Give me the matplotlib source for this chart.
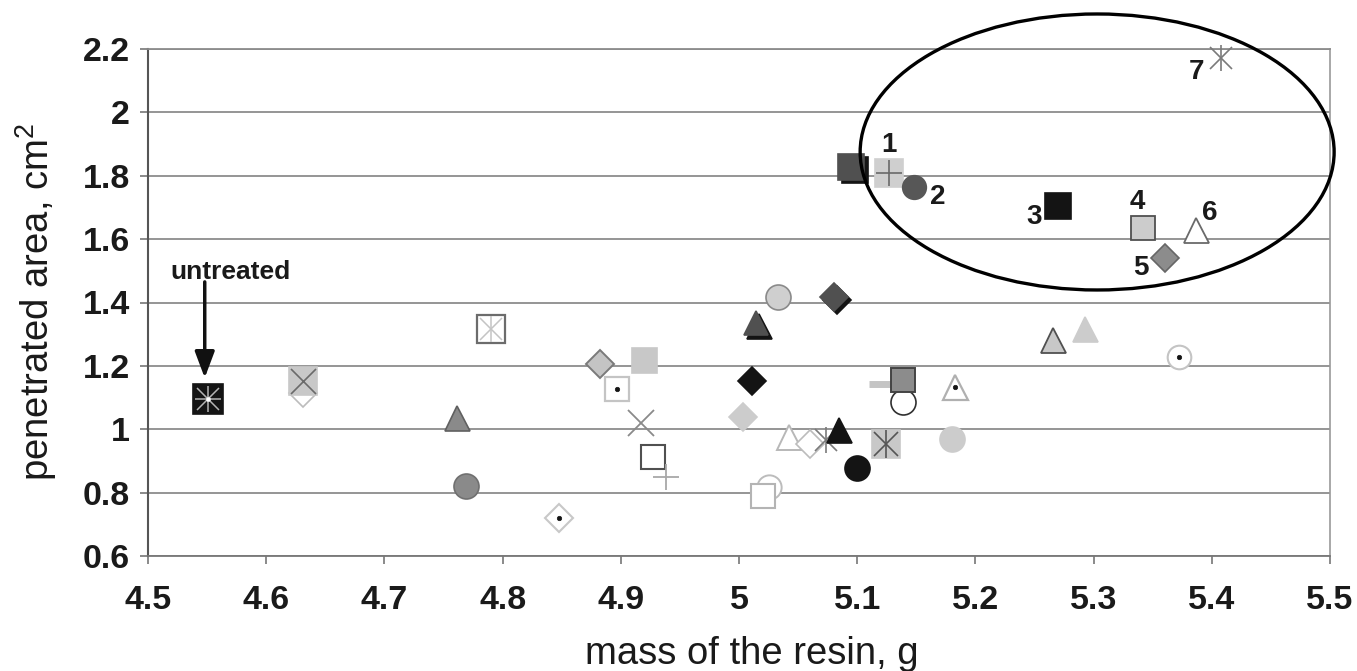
import matplotlib
matplotlib.use('Agg')
import matplotlib.pyplot as plt
from matplotlib.patches import Ellipse

plt.rcParams['font.family'] = ['Liberation Sans', 'DejaVu Sans']
plt.rcParams['mathtext.fontset'] = 'custom'
plt.rcParams['mathtext.rm'] = 'Liberation Sans'

# data (one entry per marker)
mass = [4.551, 4.631, 4.631, 4.790, 4.882, 4.920, 4.897, 4.761, 4.917, 4.927,
        4.938, 4.769, 4.848, 5.033, 5.083, 5.080, 5.017, 5.014, 5.011, 5.003,
        5.042, 5.060, 5.074, 5.085, 5.100, 5.124, 5.139, 5.119, 5.139, 5.183,
        5.180, 5.025, 5.020, 5.098, 5.095, 5.127, 5.148, 5.270, 5.408, 5.342,
        5.387, 5.360, 5.266, 5.293, 5.372]
area = [1.096, 1.115, 1.153, 1.317, 1.206, 1.219, 1.127, 1.036, 1.020, 0.913,
        0.850, 0.821, 0.720, 1.418, 1.409, 1.417, 1.326, 1.336, 1.153, 1.039,
        0.976, 0.954, 0.967, 0.998, 0.878, 0.954, 1.086, 1.143, 1.156, 1.134,
        0.970, 0.818, 0.790, 1.819, 1.827, 1.809, 1.765, 1.705, 2.172, 1.635,
        1.629, 1.541, 1.282, 1.317, 1.228]
kind = ['sq_k_ast', 'dia_open', 'sq_lg_x', 'sq_open_ast', 'dia_lg', 'sq_lg',
        'sq_open_dot', 'tri_g', 'x_g', 'sq_open_dg', 'plus_lg', 'circ_g',
        'dia_open_dot', 'circ_lg', 'dia_k', 'dia_dg', 'tri_k', 'tri_dg',
        'dia_k', 'dia_lg_ne', 'tri_open', 'dia_open', 'ast_g', 'tri_k',
        'circ_k', 'sq_lg_ast', 'circ_open_dg', 'dash_lg', 'sq_g',
        'tri_open_dot', 'circ_lg_ne', 'circ_open', 'sq_open', 'sq_k', 'sq_dg',
        'sq_lg_plus', 'circ_dg', 'sq_k', 'ast_g', 'sq_lg_dg', 'tri_open_dg',
        'dia_g', 'tri_lg_dg', 'tri_lg_ne', 'circ_open_dot']

point_labels = ['1', '2', '3', '4', '5', '6', '7']
label_x = [5.127, 5.168, 5.250, 5.337, 5.340, 5.398, 5.387]
label_y = [1.897, 1.733, 1.670, 1.717, 1.509, 1.683, 2.127]

x_ticks = [4.5, 4.6, 4.7, 4.8, 4.9, 5.0, 5.1, 5.2, 5.3, 5.4, 5.5]
x_tick_labels = ['4.5', '4.6', '4.7', '4.8', '4.9', '5', '5.1', '5.2', '5.3', '5.4', '5.5']
y_ticks = [0.6, 0.8, 1.0, 1.2, 1.4, 1.6, 1.8, 2.0, 2.2]
y_tick_labels = ['0.6', '0.8', '1', '1.2', '1.4', '1.6', '1.8', '2', '2.2']

K = '#141414'
DG = '#505050'
G = '#8a8a8a'
LG = '#c8c8c8'
W = 'white'
DIA = 13.8  # diamond marker size


def mk(marker, ms, fc, ec, mew=1.2):
    return dict(marker=marker, ms=ms, mfc=fc, mec=ec, mew=mew)


def dot():
    return mk('o', 3.2, K, K, 0.5)


def ast(ms, c, mew=1.1):
    return [mk('x', ms * 0.85, c, c, mew), mk('|', ms, c, c, mew)]


styles = {
    'sq_k_ast': [mk('s', 21.5, K, K)] + ast(19, '#b4b4b4') + [mk('_', 19, '#b4b4b4', '#b4b4b4', 1.1), mk('o', 3, W, W, 0.3)],
    'dia_open': [mk('D', DIA, W, '#bcbcbc')],
    'sq_lg_x': [mk('s', 20.5, LG, LG), mk('x', 18, '#6a6a6a', '#6a6a6a', 1.2)],
    'sq_open_ast': [mk('s', 20, W, '#6c6c6c', 1.6)] + ast(19, '#c4c4c4'),
    'dia_lg': [mk('D', DIA, '#c4c4c4', '#7a7a7a', 1.4)],
    'sq_lg': [mk('s', 18, LG, LG)],
    'sq_open_dot': [mk('s', 17.5, W, '#c4c4c4', 1.6), dot()],
    'tri_g': [mk('^', 18, G, '#606060', 1.2)],
    'x_g': [mk('x', 18.5, G, G, 1.3)],
    'sq_open_dg': [mk('s', 17.5, W, '#505050', 1.5)],
    'plus_lg': [mk('+', 19, '#a8a8a8', '#a8a8a8', 1.3)],
    'circ_g': [mk('o', 18, G, '#707070', 1.2)],
    'dia_open_dot': [mk('D', DIA, W, '#c8c8c8', 1.5), dot()],
    'circ_lg': [mk('o', 18, '#cfcfcf', '#8a8a8a', 1.2)],
    'dia_k': [mk('D', DIA, K, K)],
    'dia_dg': [mk('D', DIA, DG, DG)],
    'tri_k': [mk('^', 18, K, K)],
    'tri_dg': [mk('^', 17.5, DG, DG)],
    'dia_lg_ne': [mk('D', DIA, '#cccccc', '#cccccc')],
    'tri_open': [mk('^', 18, W, '#b8b8b8', 1.4)],
    'ast_g': ast(19, '#7a7a7a', 1.2),
    'circ_k': [mk('o', 18, K, K)],
    'sq_lg_ast': [mk('s', 20.5, LG, LG)] + ast(20, '#555555', 1.2),
    'circ_open_dg': [mk('o', 18, W, '#303030', 1.2)],
    'dash_lg': [mk('_', 16, '#c4c4c4', '#c4c4c4', 5)],
    'sq_g': [mk('s', 17, '#8c8c8c', '#444444', 1.4)],
    'tri_open_dot': [mk('^', 18, W, '#b0b0b0', 1.6), dot()],
    'circ_lg_ne': [mk('o', 18, '#cccccc', '#cccccc')],
    'circ_open': [mk('o', 17.5, W, '#bcbcbc', 1.4)],
    'sq_open': [mk('s', 17.5, W, '#b4b4b4', 1.5)],
    'sq_k': [mk('s', 18.5, K, K)],
    'sq_dg': [mk('s', 19, DG, DG)],
    'sq_lg_plus': [mk('s', 19.5, '#cfcfcf', '#cfcfcf'), mk('+', 19, '#6a6a6a', '#6a6a6a', 1.2)],
    'circ_dg': [mk('o', 17, '#575757', '#575757')],
    'sq_lg_dg': [mk('s', 17.5, '#cccccc', '#505050', 1.3)],
    'tri_open_dg': [mk('^', 18, W, '#6a6a6a', 1.3)],
    'dia_g': [mk('D', DIA, '#8c8c8c', '#666666', 1.2)],
    'tri_lg_dg': [mk('^', 18, '#c8c8c8', '#505050', 1.3)],
    'tri_lg_ne': [mk('^', 18, '#cccccc', '#cccccc')],
    'circ_open_dot': [mk('o', 17, W, '#c4c4c4', 1.5), dot()],
}

fig = plt.figure(figsize=(13.57, 6.71), dpi=100)
ax = fig.add_axes([148 / 1357, 1 - 556 / 671, 1182 / 1357, 507 / 671])

# markers, drawn in order so that overlaps stack like the original
z = 3
for x, y, k in zip(mass, area, kind):
    for layer in styles[k]:
        ax.plot([x], [y], linestyle='none', zorder=z, clip_on=False, **layer)
        z += 0.01

# ellipse around the high-area group
ax.add_patch(Ellipse((5.303, 1.875), 0.401, 0.871, fill=False, ec='black',
                     lw=2.4, clip_on=False, zorder=10))

for t, x, y in zip(point_labels, label_x, label_y):
    ax.text(x, y, t, fontsize=20, fontweight='bold', ha='center', va='center',
            color='#1a1a1a', zorder=11)

ax.text(4.570, 1.497, 'untreated', fontsize=19, fontweight='bold',
        ha='center', va='center', color='#1a1a1a')
ax.annotate('', xy=(4.548, 1.162), xytext=(4.548, 1.465),
            arrowprops=dict(arrowstyle='-|>,head_length=0.8,head_width=0.3',
                            lw=2.5, color='#111111', mutation_scale=20,
                            shrinkA=0, shrinkB=0))

ax.set_xlim(4.5, 5.5)
ax.set_ylim(0.6, 2.2)
ax.set_xticks(x_ticks)
ax.set_xticklabels(x_tick_labels)
ax.set_yticks(y_ticks)
ax.set_yticklabels(y_tick_labels)
ax.tick_params(axis='both', labelsize=24.5, direction='out', length=6,
               width=1.2, color='#777777', labelcolor='#1a1a1a')
ax.tick_params(axis='x', pad=15)
ax.tick_params(axis='y', pad=7)
for lab in ax.get_xticklabels() + ax.get_yticklabels():
    lab.set_fontweight('bold')

ax.yaxis.grid(True, color='#8c8c8c', lw=1.3)
ax.set_axisbelow(True)
ax.spines['left'].set_color('#555555')
ax.spines['left'].set_linewidth(1.5)
ax.spines['bottom'].set_color('#777777')
ax.spines['bottom'].set_linewidth(1.3)
ax.spines['right'].set_color('#999999')
ax.spines['right'].set_linewidth(1.2)
ax.spines['top'].set_color('#8c8c8c')
ax.spines['top'].set_linewidth(1.3)

fig.text(752 / 1357, 0.011, 'mass of the resin, g', fontsize=27.5,
         ha='center', va='baseline', color='#1a1a1a')
fig.text(36 / 1357, 1 - 302 / 671, r'penetrated area, cm$^{2}$', fontsize=27.5,
         rotation=90, ha='center', va='center', color='#1a1a1a')

fig.savefig('out.png', dpi=100)
